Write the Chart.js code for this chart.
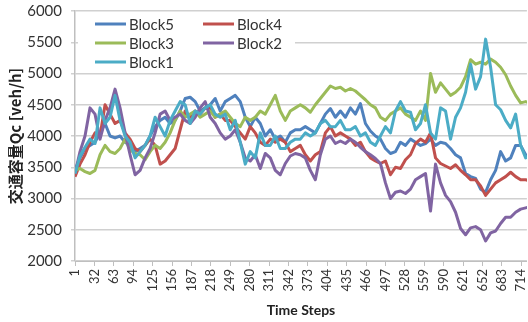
<!DOCTYPE html>
<html>
<head>
<meta charset="utf-8">
<script src="https://cdn.jsdelivr.net/npm/chart.js@4"></script>
<style>
  html, body { margin: 0; padding: 0; background: #fff; overflow: hidden; }
  #wrap { position: relative; width: 540px; height: 322px; }
</style>
</head>
<body>
<div id="wrap"><canvas id="c"></canvas></div>
<script>
// Time steps at which the traffic capacity is plotted
const steps = [1,9,17,25,33,41,49,57,65,73,81,89,97,105,113,121,129,137,145,153,161,169,177,185,193,201,209,217,225,233,241,249,257,265,273,281,289,297,305,313,321,329,337,345,353,361,369,377,385,393,401,409,417,425,433,441,449,457,465,473,481,489,497,505,513,521,529,537,545,553,561,569,577,585,593,601,609,617,625,633,641,649,657,665,673,681,689,697,705,713,721,729];

// Axis tick labels
const xTickLabels = [1,32,63,94,125,156,187,218,249,280,311,342,373,404,435,466,497,528,559,590,621,652,683,714];
const yTickLabels = [2000,2500,3000,3500,4000,4500,5000,5500,6000];

// Traffic capacity Qc [veh/h] per block
const block5 = [3450,3650,3800,3850,3900,4050,4200,4000,3970,4000,3900,3850,3750,3800,3850,4000,
  4150,4250,4300,4200,4250,4400,4600,4620,4550,4400,4450,4500,4600,4400,4550,
  4600,4650,4550,4300,4150,4300,4200,4000,4100,3950,4000,3900,4050,4100,4100,
  4150,4100,4050,4200,4350,4440,4300,4400,4300,4450,4350,4520,4200,4080,4000,
  3950,3800,3720,3750,3900,3850,3950,3900,3850,3880,3950,3850,3900,3880,3800,
  3700,3650,3400,3350,3320,3150,3100,3300,3450,3750,3600,3650,3850,3850,3700,3650];
const block4 = [3350,3550,3700,3900,4050,4000,4500,4350,4200,4250,4050,3950,3800,3750,3850,3950,
  3850,3550,3600,3700,3800,4100,4400,4300,4400,4350,4450,4450,4300,4350,4250,
  4250,4150,4050,3950,4150,4050,3900,3850,3950,3900,3950,3900,3750,3800,3850,
  3700,3600,3700,3750,4050,4150,4000,4050,4000,3950,3850,3900,3750,3650,3600,
  3560,3600,3380,3500,3480,3620,3700,3880,3950,3900,4050,3650,3560,3520,3480,
  3540,3450,3380,3300,3300,3200,3050,3150,3250,3300,3350,3420,3350,3300,3300,3280];
const block3 = [3450,3480,3430,3400,3450,3700,3850,3750,3720,3800,3950,3780,3720,3700,3620,3750,
  3850,3800,3900,4050,4250,4400,4300,4350,4400,4300,4350,4400,4300,4350,4400,
  4300,4200,4150,4300,4250,4300,4400,4350,4500,4650,4400,4250,4400,4450,4500,
  4450,4380,4500,4600,4700,4800,4760,4780,4720,4760,4720,4650,4580,4500,4450,
  4300,4250,4350,4400,4450,4350,4300,4250,4400,4250,5000,4700,4850,4750,4650,
  4700,4780,4950,5220,5150,5180,5150,5230,5180,5100,4980,4800,4650,4530,4550,4520];
const block2 = [3400,3750,4000,4450,4350,3950,4250,4450,4750,4450,4050,3700,3380,3450,3650,3800,
  4050,4350,4400,4250,4300,4350,4250,4200,4300,4450,4550,4300,4200,4050,3950,
  4000,4100,3900,3650,3600,3700,3480,3720,3650,3450,3380,3560,3680,3720,3700,
  3650,3450,3300,3700,3950,4000,3880,3920,3880,3950,3900,3820,3750,3700,3640,
  3560,3250,3000,3100,3120,3080,3150,3300,3350,3400,2800,3550,3250,3050,2950,
  2780,2520,2420,2530,2550,2500,2320,2450,2480,2600,2700,2700,2780,2830,2850,2870];
const block1 = [3400,3680,3820,3950,3880,4450,4200,4300,4650,4250,4000,3900,3650,3750,3850,4000,
  4300,4150,4000,4250,4400,4550,4500,4200,4400,4350,4450,4500,4350,4300,4350,
  4100,4250,3900,3550,3750,3650,4050,3850,3850,4000,3800,3800,3900,3950,3950,
  4050,4000,4050,4200,4250,4150,4150,4250,4100,4100,4150,4000,4050,3900,3850,
  4000,4150,4050,4400,4550,4400,4380,4100,4200,4500,4050,3950,4450,4400,3950,
  4300,4450,4700,5150,4750,4950,5550,5100,4500,4420,4250,4130,4350,3850,3650,3700];

const seriesNames = ['Block5', 'Block4', 'Block3', 'Block2', 'Block1'];
const seriesValues = [block5, block4, block3, block2, block1];
const seriesColors = ['#4F81BD', '#C0504D', '#9BBB59', '#8064A2', '#4BACC6'];

const textColor = '#333333';
const fontFamily = 'Lato, "Noto Sans", sans-serif';

const datasets = seriesNames.map((name, k) => ({
  label: name,
  data: steps.map((s, i) => ({ x: s, y: seriesValues[k][i] })),
  borderColor: seriesColors[k],
  backgroundColor: seriesColors[k],
  borderWidth: 3,
  pointRadius: 0,
  tension: 0,
  fill: false,
  borderJoinStyle: 'round',
  order: seriesNames.length - k
}));

// Legend box drawn inside the plot, two columns
const insideLegend = {
  id: 'insideLegend',
  beforeDatasetsDraw(chart) {
    const ctx = chart.ctx;
    const area = chart.chartArea;
    const x0 = area.left + 3, y0 = area.top + 1;
    ctx.save();
    ctx.fillStyle = '#ffffff';
    ctx.fillRect(x0, y0, 217, 58);
    const cols = [area.left + 20, area.left + 128];
    const rows = [area.top + 13, area.top + 32, area.top + 51];
    ctx.font = '15px ' + fontFamily;
    ctx.textBaseline = 'middle';
    ctx.textAlign = 'left';
    seriesNames.forEach((name, k) => {
      const cx = cols[k % 2];
      const cy = rows[Math.floor(k / 2)];
      ctx.strokeStyle = seriesColors[k];
      ctx.lineWidth = 3;
      ctx.beginPath();
      ctx.moveTo(cx, cy);
      ctx.lineTo(cx + 31, cy);
      ctx.stroke();
      ctx.fillStyle = textColor;
      ctx.fillText(name, cx + 34, cy + 1);
    });
    ctx.restore();
  }
};

new Chart(document.getElementById('c'), {
  type: 'line',
  data: { datasets },
  plugins: [insideLegend],
  options: {
    responsive: true,
    maintainAspectRatio: false,
    animation: false,
    devicePixelRatio: 1,
    layout: { padding: { top: 11, right: 10, left: 0, bottom: 0 } },
    plugins: { legend: { display: false }, tooltip: { enabled: false } },
    scales: {
      x: {
        type: 'linear',
        min: 1,
        max: 723,
        afterBuildTicks: (scale) => { scale.ticks = xTickLabels.map(v => ({ value: v })); },
        afterFit: (scale) => { scale.height = 61; },
        ticks: {
          autoSkip: false,
          minRotation: 90,
          maxRotation: 90,
          padding: 3,
          color: textColor,
          font: { family: fontFamily, size: 13 },
          callback: (v) => String(v)
        },
        grid: { drawOnChartArea: false, drawTicks: true, tickLength: 5, color: '#BFBFBF' },
        border: { color: '#BFBFBF', width: 1 },
        title: {
          display: true,
          text: 'Time Steps',
          color: '#222222',
          font: { family: fontFamily, size: 14, weight: 'bold' },
          padding: { top: 0, bottom: 3 }
        }
      },
      y: {
        min: 2000,
        max: 6000,
        afterBuildTicks: (scale) => { scale.ticks = yTickLabels.map(v => ({ value: v })); },
        afterFit: (scale) => {
          scale.width = 75;
          scale.paddingTop = 0;
          scale.paddingBottom = 0;
        },
        ticks: {
          padding: 9,
          color: textColor,
          font: { family: fontFamily, size: 15 },
          callback: (v) => String(v)
        },
        grid: { color: '#D0D0D0', tickLength: 4, lineWidth: 1.5 },
        border: { color: '#BFBFBF', width: 1.5 },
        title: {
          display: true,
          text: '交通容量Qc [veh/h]',
          color: '#222222',
          font: { family: '"Noto Sans CJK JP", "Noto Sans", sans-serif', size: 15, weight: 'bold' },
          padding: { top: 6, bottom: 0 }
        }
      }
    }
  }
});
</script>
</body>
</html>
